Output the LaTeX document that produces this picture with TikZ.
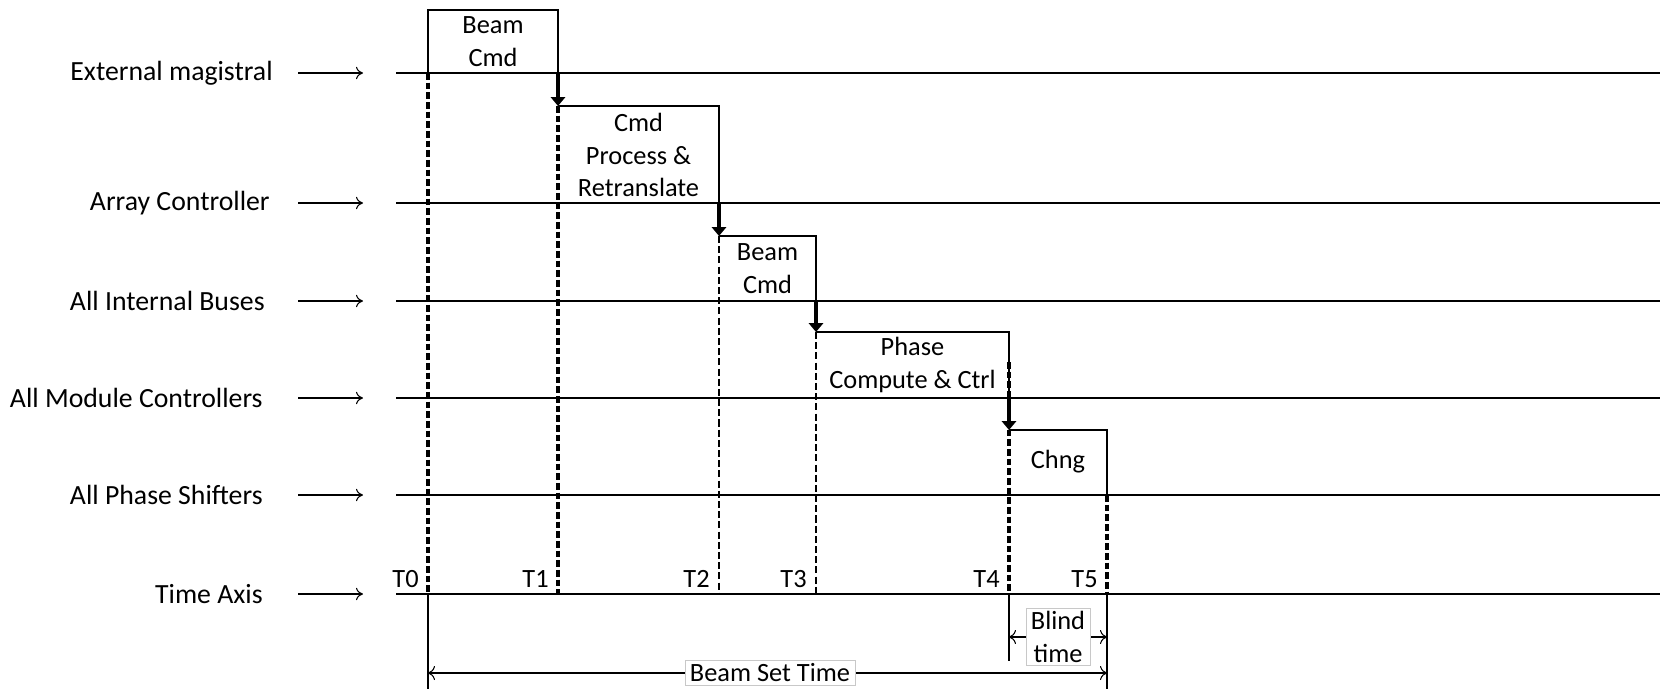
\documentclass[tikz,border=0pt]{standalone}
\usepackage{fontspec}
\setmainfont{Carlito}
\usetikzlibrary{positioning,calc}
\usetikzlibrary{arrows.meta}
\definecolor{BoxGray}{RGB}{200,200,200}
\tikzset{
  sig/.style={draw=black,line width=0.9pt},
  lab/.style={anchor=east,inner sep=0pt,font=\fontsize{15.8}{18.7}\selectfont},
  feed/.style={draw=black,line width=0.6pt,-{To[length=4pt,width=7pt]}},
  cmd/.style={align=center,inner sep=0pt,font=\fontsize{15}{18.7}\selectfont},
}
\tikzset{tickline/.style={line width=2.3pt,dash pattern=on 3.8pt off 1.7pt},
  tickfine/.style={line width=1.3pt,dash pattern=on 4pt off 1.8pt},
  push/.style={line width=2.8pt,-{Triangle[width=8pt,length=5pt]}},
  tlab/.style={inner sep=0pt,font=\fontsize{15}{18.7}\selectfont},
  spanarr/.style={line width=0.6pt,{To[length=4pt,width=8pt]}-{To[length=4pt,width=8pt]}},
  spanlab/.style={draw=BoxGray,fill=white,line width=0.4pt,align=center,inner xsep=1mm,inner ysep=0.6mm,font=\fontsize{15}{18.7}\selectfont}}

\begin{document}
\begin{tikzpicture}[x=0.2mm,y=-0.2mm]
\useasboundingbox (0,0) rectangle (1660,689);
\coordinate (T0) at (428,594);
\coordinate (T1) at (558,594);
\coordinate (T2) at (719,594);
\coordinate (T3) at (816,594);
\coordinate (T4) at (1009,594);
\coordinate (T5) at (1107,594);
% signal rows
\foreach \n/\txt/\x/\y in {em/External magistral/273/73, ac/Array Controller/270/203,
    ib/All Internal Buses/265/301, mc/All Module Controllers/263/398,
    ps/All Phase Shifters/263/495, ta/Time Axis/263/594} {
  \node[lab] (\n) at (\x,\y) {\txt};
  \coordinate (\n-out) at (298,\y);
  \coordinate (\n-in) at (363,\y);
  \draw[feed] (\n-out) -- (\n-in);
  \draw[sig] (396,\y) -- (1660,\y);
}
% steps
\draw[sig] (428,73) |- (558,10) -- (558,73);
\draw[sig] (558,106) -- (719,106) -- (719,203);
\draw[sig] (719,236) -- (816,236) -- (816,301);
\draw[sig] (816,332) -- (1009,332) -- (1009,398);
\draw[sig] (1009,430) -- (1107,430) -- (1107,495);
\draw[push] (558,73) -- (558,106);
\draw[push] (719,203) -- (719,236);
\draw[push] (816,301) -- (816,332);
\draw[push] (1009,398) -- (1009,430);
\draw[tickline] (428,73) -- (T0);
\draw[tickline] (558,106) -- (T1);
\draw[tickfine] (719,236) -- (T2);
\draw[tickfine] (816,332) -- (T3);
\draw[tickline] (1009,362) -- (T4);
\draw[tickline] (1107,495) -- (T5);
\node[cmd] (beam1) at (493,41.5) {Beam\\Cmd};
\node[cmd] (proc) at (638.5,155) {Cmd\\Process \&\\Retranslate};
\node[cmd] (beam2) at (767.5,268.5) {Beam\\Cmd};
\node[cmd] (phase) at (912.5,365) {Phase\\Compute \& Ctrl};
\node[cmd] (chng) at (1058,462) {Chng};
% time marks
\foreach \t in {0,...,5}
  \node[tlab,above left=1.2mm and 1.8mm of T\t] (t\t) {T\t};
% durations
\coordinate (end0) at (428,689);
\coordinate (end4) at (1009,661);
\coordinate (end5) at (1107,689);
\draw[sig] (T0) -- (end0);
\draw[sig] (T4) -- (end4);
\draw[sig] (T5) -- (end5);
\coordinate (bl4) at (1009,637);
\coordinate (bl5) at (1107,637);
\coordinate (bs0) at (428,673);
\coordinate (bs5) at (1107,673);
\draw[spanarr] (bl4) -- (bl5);
\draw[spanarr] (bs0) -- (bs5);
\node[spanlab] (blind) at ($(bl4)!0.5!(bl5)$) {Blind\\time};
\node[spanlab] (bst) at (770,673) {Beam Set Time};
\end{tikzpicture}
\end{document}
